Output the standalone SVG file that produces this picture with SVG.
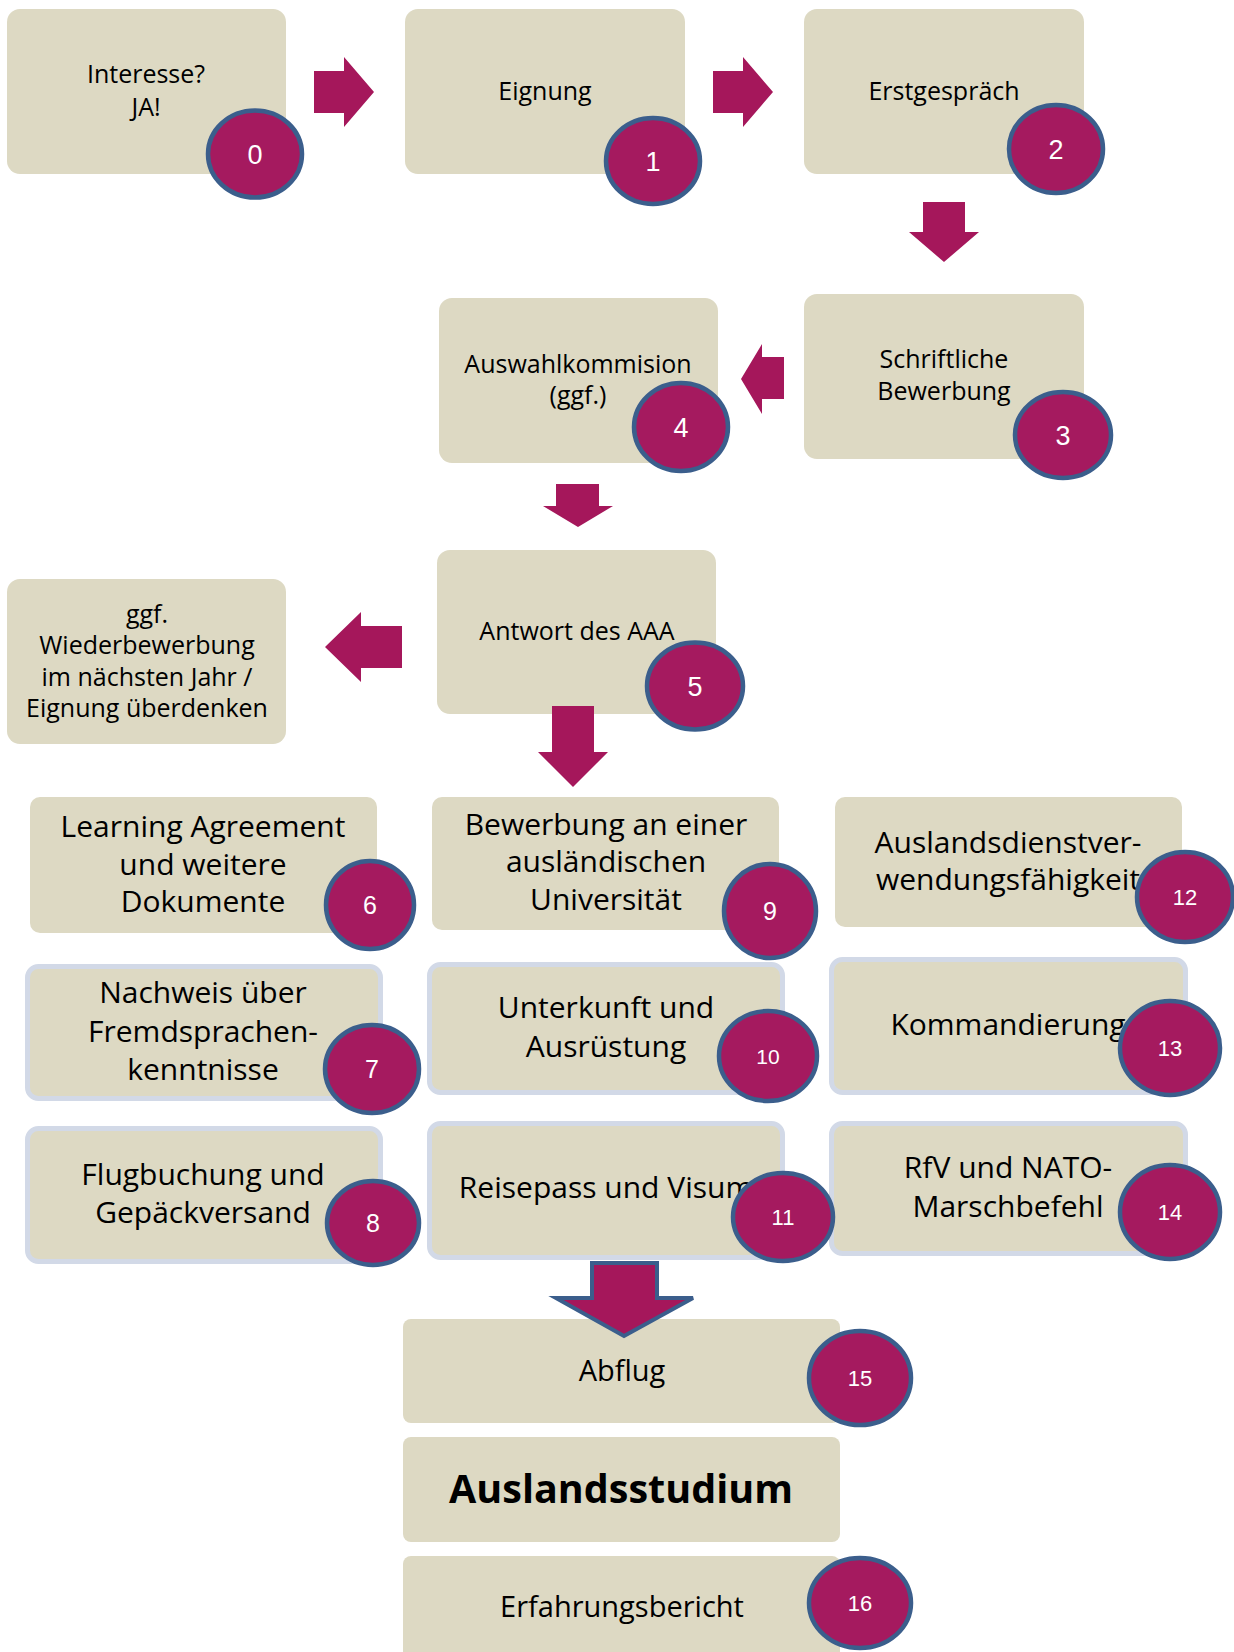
<svg xmlns="http://www.w3.org/2000/svg" width="1234" height="1652" viewBox="0 0 1234 1652">
<style>
.box{fill:#DDD9C3}
.bbox{fill:#DDD9C3;stroke:#D2D9E7;stroke-width:5}
.t{font-family:"Open Sans","Noto Sans",Lato,sans-serif;fill:#000;text-anchor:middle}
.s{font-size:25px}
.l{font-size:30px}
.m{font-size:29px}
.b{font-size:39.5px;font-weight:bold}
.c{fill:#A51A5F;stroke:#3B5E8C;stroke-width:4.5}
.n{font-family:"Liberation Sans",Arial,sans-serif;fill:#fff;text-anchor:middle}
.arr{fill:#A5175B}
.arro{fill:#A5175B;stroke:#3B5E8C;stroke-width:4;stroke-linejoin:miter}
</style>
<rect width="1234" height="1652" fill="#fff"/>
<g id="n0"><rect class="box" x="7" y="9" width="279" height="165" rx="13"/><text class="t s" x="146" y="83">Interesse?</text><text class="t s" x="146" y="116">JA!</text></g>
<g id="n1"><rect class="box" x="405" y="9" width="280" height="165" rx="13"/><text class="t s" x="545" y="100">Eignung</text></g>
<g id="n2"><rect class="box" x="804" y="9" width="280" height="165" rx="13"/><text class="t s" x="944" y="100">Erstgespräch</text></g>
<g id="n3"><rect class="box" x="804" y="294" width="280" height="165" rx="13"/><text class="t s" x="944" y="368">Schriftliche</text><text class="t s" x="944" y="400">Bewerbung</text></g>
<g id="n4"><rect class="box" x="439" y="298" width="279" height="165" rx="13"/><text class="t s" x="578" y="373">Auswahlkommision</text><text class="t s" x="578" y="404">(ggf.)</text></g>
<g id="n5"><rect class="box" x="437" y="550" width="279" height="164" rx="13"/><text class="t s" x="577" y="640">Antwort des AAA</text></g>
<g id="ng"><rect class="box" x="7" y="579" width="279" height="165" rx="13"/><text class="t s" x="147" y="623">ggf.</text><text class="t s" x="147" y="654">Wiederbewerbung</text><text class="t s" x="147" y="686">im nächsten Jahr /</text><text class="t s" x="147" y="717">Eignung überdenken</text></g>
<g id="n6"><rect class="box" x="30" y="797" width="347" height="136" rx="10"/><text class="t l" x="203" y="837">Learning Agreement</text><text class="t l" x="203" y="875">und weitere</text><text class="t l" x="203" y="912">Dokumente</text></g>
<g id="n7"><rect class="bbox" x="27.5" y="966.5" width="353" height="132" rx="11"/><text class="t l" x="203" y="1003">Nachweis über</text><text class="t l" x="203" y="1042">Fremdsprachen-</text><text class="t l" x="203" y="1080">kenntnisse</text></g>
<g id="n8"><rect class="bbox" x="27.5" y="1128.5" width="353" height="133" rx="11"/><text class="t l" x="203" y="1185">Flugbuchung und</text><text class="t l" x="203" y="1223">Gepäckversand</text></g>
<g id="n9"><rect class="box" x="432" y="797" width="347" height="133" rx="10"/><text class="t l" x="606" y="835">Bewerbung an einer</text><text class="t l" x="606" y="872">ausländischen</text><text class="t l" x="606" y="910">Universität</text></g>
<g id="n10"><rect class="bbox" x="429.5" y="964.5" width="353" height="128" rx="11"/><text class="t l" x="606" y="1018">Unterkunft und</text><text class="t l" x="606" y="1057">Ausrüstung</text></g>
<g id="n11"><rect class="bbox" x="429.5" y="1123.5" width="353" height="134" rx="11"/><text class="t l" x="606" y="1198">Reisepass und Visum</text></g>
<g id="n12"><rect class="box" x="835" y="797" width="347" height="130" rx="10"/><text class="t l" x="1008" y="853">Auslandsdienstver-</text><text class="t l" x="1008" y="890">wendungsfähigkeit</text></g>
<g id="n13"><rect class="bbox" x="831.5" y="959.5" width="354" height="133" rx="11"/><text class="t l" x="1008" y="1035">Kommandierung</text></g>
<g id="n14"><rect class="bbox" x="831.5" y="1123.5" width="354" height="130" rx="11"/><text class="t l" x="1008" y="1178">RfV und NATO-</text><text class="t l" x="1008" y="1217">Marschbefehl</text></g>
<g id="n15"><rect class="box" x="403" y="1319" width="437" height="104" rx="8"/><text class="t m" x="622" y="1381">Abflug</text></g>
<g id="nA"><rect class="box" x="403" y="1437" width="437" height="105" rx="8"/><text class="t b" x="621" y="1503">Auslandsstudium</text></g>
<g id="n16"><rect class="box" x="403" y="1556" width="437" height="110" rx="8"/><text class="t m" x="622" y="1617">Erfahrungsbericht</text></g>
<g id="connectors">
<polygon class="arr" points="314,71 344,71 344,57 374,92 344,127 344,113 314,113"/>
<polygon class="arr" points="713,71 743,71 743,57 773,92 743,127 743,113 713,113"/>
<polygon class="arr" points="923,202 965,202 965,232 979,232 944,262 909,232 923,232"/>
<polygon class="arr" points="784,357 762,357 762,344 741,379 762,414 762,399 784,399"/>
<polygon class="arr" points="556,484 599,484 599,506 613,506 578,527 543,506 556,506"/>
<polygon class="arr" points="402,626 361,626 361,612 325,647 361,682 361,668 402,668"/>
<polygon class="arr" points="552,706 594,706 594,752 608,752 573,787 538,752 552,752"/>
<polygon class="arro" points="592,1263 657,1263 657,1298 693,1298 624,1336 556,1298 592,1298"/>
</g>
<g id="badges">
<g id="b0"><ellipse class="c" cx="255" cy="154" rx="47" ry="43.5"/><text class="n" x="255" y="164" font-size="27">0</text></g>
<g id="b1"><ellipse class="c" cx="653" cy="161" rx="47" ry="43"/><text class="n" x="653" y="171" font-size="27">1</text></g>
<g id="b2"><ellipse class="c" cx="1056" cy="149" rx="47" ry="44"/><text class="n" x="1056" y="159" font-size="27">2</text></g>
<g id="b3"><ellipse class="c" cx="1063" cy="435" rx="48" ry="43"/><text class="n" x="1063" y="445" font-size="27">3</text></g>
<g id="b4"><ellipse class="c" cx="681" cy="427" rx="47" ry="44"/><text class="n" x="681" y="437" font-size="27">4</text></g>
<g id="b5"><ellipse class="c" cx="695" cy="686" rx="48" ry="43.5"/><text class="n" x="695" y="696" font-size="27">5</text></g>
<g id="b6"><ellipse class="c" cx="370" cy="905" rx="44" ry="44"/><text class="n" x="370" y="914" font-size="25">6</text></g>
<g id="b7"><ellipse class="c" cx="372" cy="1069" rx="47" ry="44"/><text class="n" x="372" y="1078" font-size="25">7</text></g>
<g id="b8"><ellipse class="c" cx="373" cy="1223" rx="46" ry="42"/><text class="n" x="373" y="1232" font-size="25">8</text></g>
<g id="b9"><ellipse class="c" cx="770" cy="911" rx="46" ry="47"/><text class="n" x="770" y="920" font-size="25">9</text></g>
<g id="b10"><ellipse class="c" cx="768" cy="1056" rx="49" ry="45"/><text class="n" x="768" y="1064" font-size="21">10</text></g>
<g id="b11"><ellipse class="c" cx="783" cy="1217" rx="50" ry="44"/><text class="n" x="783" y="1225" font-size="22">11</text></g>
<g id="b12"><ellipse class="c" cx="1185" cy="897" rx="48" ry="45"/><text class="n" x="1185" y="905" font-size="22">12</text></g>
<g id="b13"><ellipse class="c" cx="1170" cy="1048" rx="50" ry="47"/><text class="n" x="1170" y="1056" font-size="22">13</text></g>
<g id="b14"><ellipse class="c" cx="1170" cy="1212" rx="50" ry="47"/><text class="n" x="1170" y="1220" font-size="22">14</text></g>
<g id="b15"><ellipse class="c" cx="860" cy="1378" rx="51" ry="47"/><text class="n" x="860" y="1386" font-size="22">15</text></g>
<g id="b16"><ellipse class="c" cx="860" cy="1603" rx="51" ry="45"/><text class="n" x="860" y="1611" font-size="22">16</text></g>
</g>
</svg>
